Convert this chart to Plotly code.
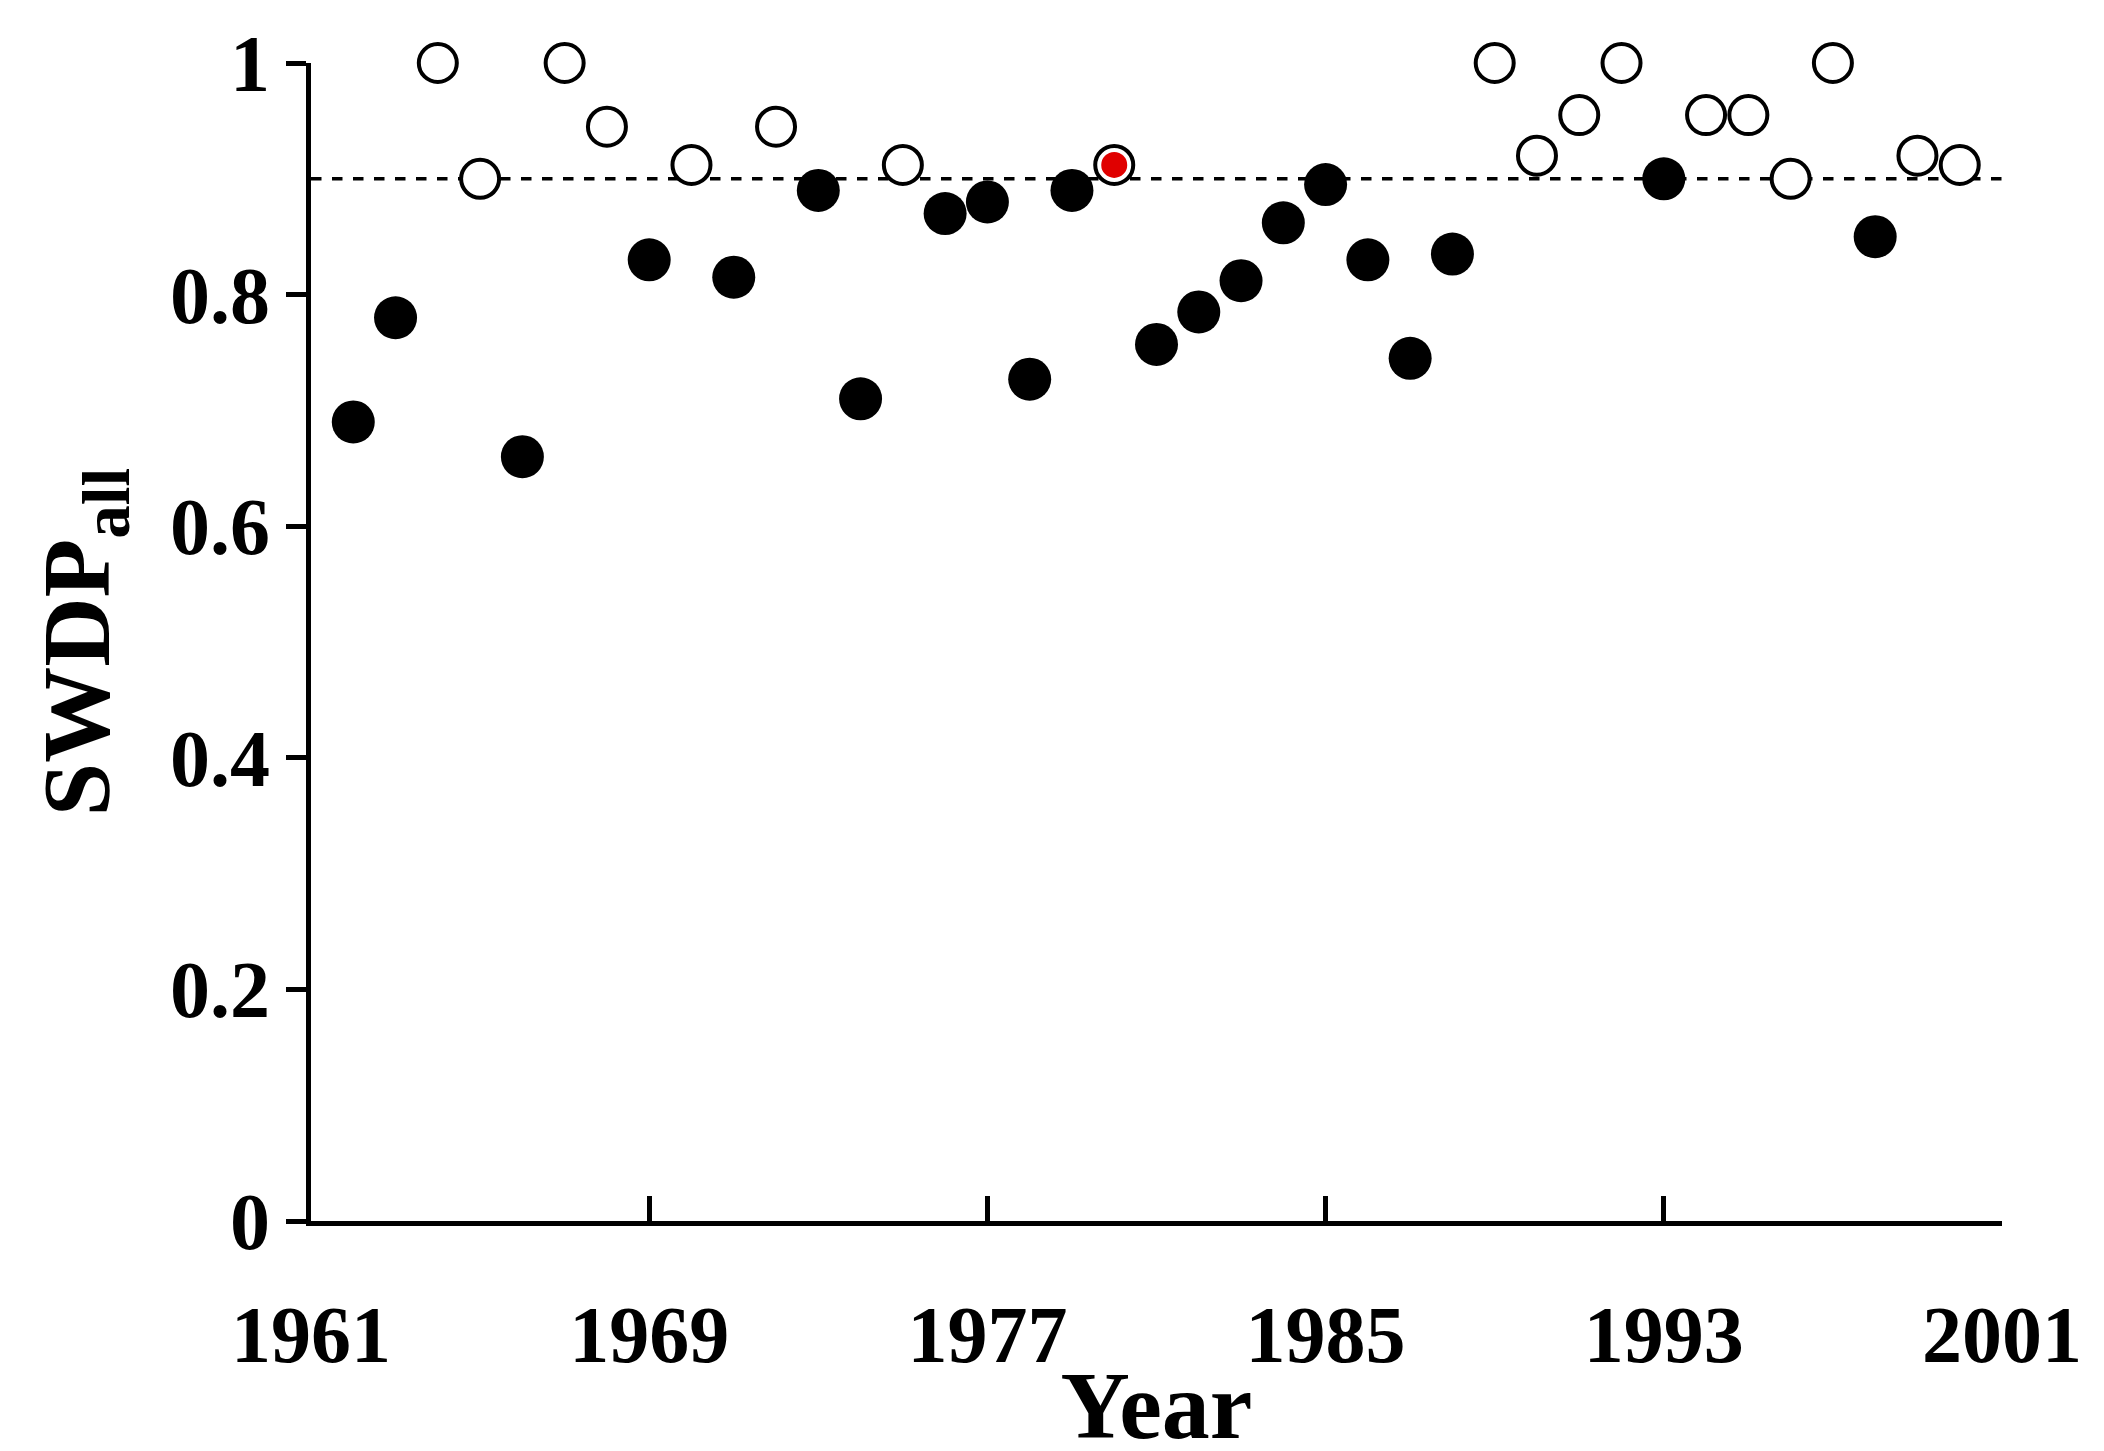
import plotly.graph_objects as go

filled_years = [1962,1963,1966,1969,1971,1973,1974,1976,1977,1978,1979,1981,1982,1983,1984,1985,1986,1987,1988,1993,1998]
filled_vals = [0.69,0.78,0.66,0.83,0.815,0.89,0.71,0.87,0.88,0.727,0.89,0.757,0.785,0.812,0.862,0.895,0.83,0.745,0.835,0.9,0.85]
open_years = [1964,1965,1967,1968,1970,1972,1975,1980,1989,1990,1991,1992,1994,1995,1996,1997,1999,2000]
open_vals = [1.0,0.9,1.0,0.945,0.912,0.945,0.912,0.912,1.0,0.92,0.955,1.0,0.955,0.955,0.9,1.0,0.92,0.912]
red_years = [1980]
red_vals = [0.912]
threshold = 0.9
x_ticks = [1961,1969,1977,1985,1993,2001]
y_ticks = [0,0.2,0.4,0.6,0.8,1]

fig = go.Figure()
fig.add_trace(go.Scatter(x=[1961,2001], y=[threshold]*2, mode="lines",
    line=dict(color="black", width=3.5, dash="dash"), cliponaxis=False))
fig.add_trace(go.Scatter(x=filled_years, y=filled_vals, mode="markers",
    marker=dict(color="black", size=43), cliponaxis=False))
fig.add_trace(go.Scatter(x=open_years, y=open_vals, mode="markers",
    marker=dict(color="white", size=38, line=dict(color="black", width=4)), cliponaxis=False))
fig.add_trace(go.Scatter(x=red_years, y=red_vals, mode="markers",
    marker=dict(color="#e00000", size=26), cliponaxis=False))

font = dict(family="Liberation Serif", size=80, color="black")
fig.update_layout(
    width=2104, height=1451, showlegend=False,
    plot_bgcolor="white", paper_bgcolor="white",
    margin=dict(l=303, r=110, t=53, b=238),
    font=font,
    xaxis=dict(range=[1961,2001], tickvals=x_ticks, ticktext=[f"<b>{v}</b>" for v in x_ticks],
        showgrid=False, zeroline=False, showline=True, linecolor="black", linewidth=5,
        ticks="inside", ticklen=25, tickwidth=5, tickcolor="black", ticklabelstandoff=40,
        title=dict(text="<b>Year</b>", standoff=0)),
    yaxis=dict(range=[0,1], tickvals=y_ticks, ticktext=["<b>0</b>","<b>0.2</b>","<b>0.4</b>","<b>0.6</b>","<b>0.8</b>","<b>1</b>"],
        showgrid=False, zeroline=False, showline=True, linecolor="black", linewidth=5,
        ticks="outside", ticklen=20, tickwidth=5, tickcolor="black",
        title=dict(text="<b>SWDP<sub>all</sub></b>", standoff=30)),
)
fig.write_html("out.html")
